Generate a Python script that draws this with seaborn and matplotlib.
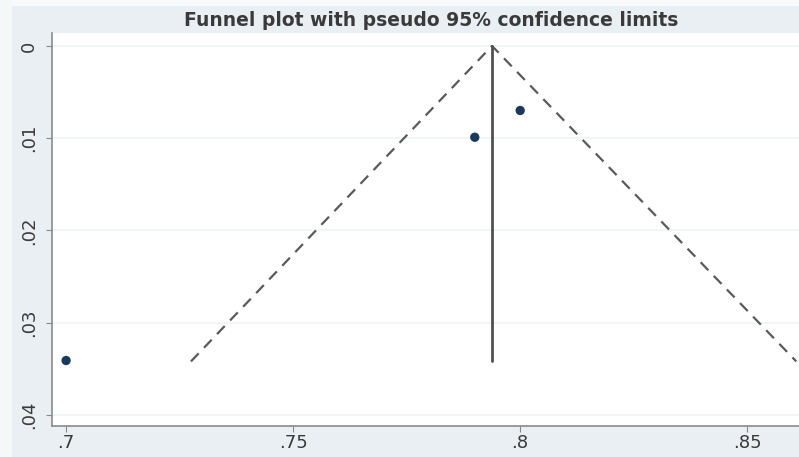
import matplotlib
matplotlib.use("Agg")
import matplotlib.pyplot as plt
from matplotlib.patches import Rectangle
import seaborn as sns
import pandas as pd

# Data
study_es = [0.700, 0.790, 0.800]
study_se = [0.0341, 0.0099, 0.0070]
pooled_es = 0.7938
max_se = 0.0342
funnel_x = [0.7275, 0.7938, 0.8608]
funnel_y = [0.0342, 0.0, 0.0342]
x_ticks = [0.70, 0.75, 0.80, 0.85]
x_labels = [".7", ".75", ".8", ".85"]
y_ticks = [0.0, 0.01, 0.02, 0.03, 0.04]
y_labels = ["0", ".01", ".02", ".03", ".04"]
title = "Funnel plot with pseudo 95% confidence limits"

sns.set_theme(style="white")
plt.rcParams['font.family'] = ['DejaVu Sans']

bg = '#e9eff2'
fig = plt.figure(figsize=(7.99, 4.57), dpi=100, facecolor=bg)
# faint lighter border strips as in the reference image
fig.patches.append(Rectangle((0, 1 - 6/457), 1, 6/457, transform=fig.transFigure,
                             facecolor='#f7f9fa', edgecolor='none', zorder=0))
fig.patches.append(Rectangle((0, 0), 12/799, 1, transform=fig.transFigure,
                             facecolor='#f5f8f9', edgecolor='none', zorder=0))

ax = fig.add_axes([52/799, 1 - 426/457, (799 - 52)/799, (426 - 33)/457])
ax.set_facecolor('white')

df_pts = pd.DataFrame({"es": study_es, "se": study_se})
df_fun = pd.DataFrame({"x": funnel_x, "y": funnel_y})
df_vert = pd.DataFrame({"x": [pooled_es, pooled_es], "y": [0.0, max_se]})

for yt in y_ticks:
    ax.axhline(yt, color='#eef3f5', lw=1.2, zorder=0)

sns.lineplot(data=df_fun, x="x", y="y", sort=False, ax=ax, color='#5a5a5a',
             lw=1.6, linestyle=(0, (5, 3.5)), estimator=None)
sns.lineplot(data=df_vert, x="x", y="y", sort=False, ax=ax, color='#505050',
             lw=2.0, estimator=None)
sns.scatterplot(data=df_pts, x="es", y="se", ax=ax, color='#1a3a5c', s=45,
                edgecolor='none', zorder=5)

ax.set_xlim(0.6969, 0.8614)
ax.set_ylim(0.0412, -0.0014)
ax.set_xticks(x_ticks)
ax.set_xticklabels(x_labels)
ax.set_yticks(y_ticks)
ax.set_yticklabels(y_labels, rotation=90, va='center')
ax.set_xlabel("")
ax.set_ylabel("")
ax.tick_params(axis='both', which='major', length=4, width=0.8, color='#888888',
               labelcolor='#3a3a3a', labelsize=13, direction='out',
               bottom=True, left=True)
ax.tick_params(axis='y', pad=6)
ax.tick_params(axis='x', pad=2)
for s in ['top', 'right']:
    ax.spines[s].set_visible(False)
for s in ['left', 'bottom']:
    ax.spines[s].set_color('#8a8a8a')
    ax.spines[s].set_linewidth(1.2)

fig.text(431/799, 1 - 20/457, title, ha='center', va='center', fontsize=13.5,
         fontweight='bold', color='#3a3a3a')

fig.savefig("out.png", dpi=100, facecolor=bg)
